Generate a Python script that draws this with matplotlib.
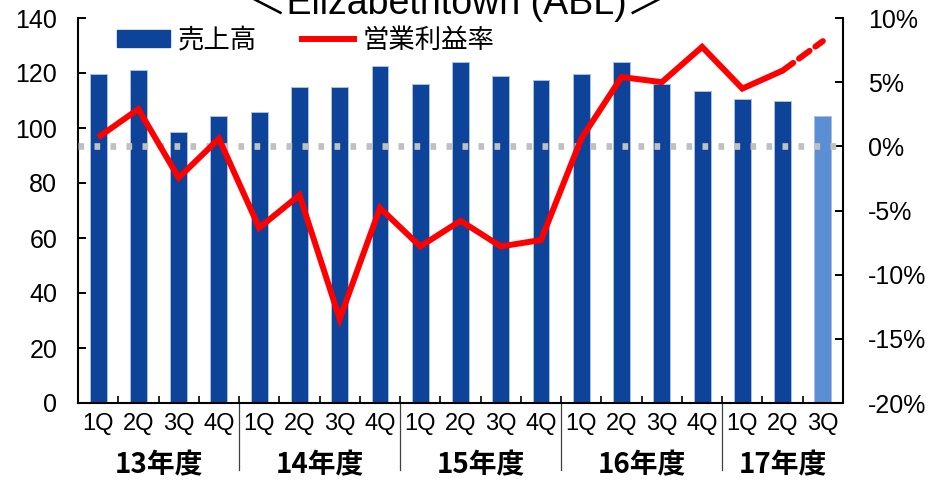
import matplotlib
matplotlib.use('Agg')
import matplotlib.pyplot as plt
from matplotlib import font_manager
from matplotlib.transforms import blended_transform_factory
from matplotlib.lines import Line2D
from matplotlib.patches import Patch
import numpy as np

# ---- data ----
quarters = ['1Q', '2Q', '3Q', '4Q'] * 4 + ['1Q', '2Q', '3Q']
years = ['13年度', '14年度', '15年度', '16年度', '17年度']
year_sizes = [4, 4, 4, 4, 3]
sales = [119.5, 121, 98.5, 104.5, 106, 115, 115, 122.7, 116, 124,
         118.8, 117.3, 119.5, 124, 116, 113.6, 110.4, 110, 104.4]
margin = [0.7, 2.9, -2.45, 0.6, -6.35, -3.8, -13.45, -4.8, -7.8, -5.8,
          -7.8, -7.3, 0.6, 5.4, 5.0, 7.75, 4.5, 5.9, 8.2]
n_actual = 18  # last value is a forecast
title = '＜Elizabethtown (ABL)＞'
legend_labels = ['売上高', '営業利益率']

names = {f.name for f in font_manager.fontManager.ttflist}
narrow = 'Liberation Sans Narrow' if 'Liberation Sans Narrow' in names else 'Liberation Sans'

plt.rcParams['font.family'] = ['Liberation Sans', 'Noto Sans CJK JP', 'DejaVu Sans']

W, H = 931, 482
fig = plt.figure(figsize=(W / 100, H / 100), dpi=100)
L, R, T, B = 78, 843, 18, 403
ax = fig.add_axes([L / W, 1 - B / H, (R - L) / W, (B - T) / H])

x = np.arange(len(sales))
dark = '#0D4399'
light = '#5B8FD4'
colors = [dark] * n_actual + [light] * (len(sales) - n_actual)
ax.bar(x, sales, width=0.42, color=colors, edgecolor='#A9BFE6', linewidth=0.7, zorder=2)
ax.set_xlim(-0.5, len(sales) - 0.5)
ax.set_ylim(0, 140)
ax.set_yticks(range(0, 141, 20))
ax.tick_params(axis='y', direction='in', length=6, width=1.4, labelsize=18, pad=15)
ax.set_xticks(x)
ax.set_xticklabels(quarters, fontsize=17, family=[narrow, 'DejaVu Sans'])
ax.tick_params(axis='x', which='major', length=0, pad=7)
ax.set_xticks(np.arange(0.5, len(sales) - 1, 1), minor=True)
ax.tick_params(axis='x', which='minor', direction='in', length=5, width=1.2)
for s in ['top', 'right']:
    ax.spines[s].set_visible(False)
for s in ['left', 'bottom']:
    ax.spines[s].set_linewidth(1.5)

ax2 = ax.twinx()
ax2.set_ylim(-20, 10)
ticks2 = list(range(-20, 11, 5))
ax2.set_yticks(ticks2)
ax2.set_yticklabels([f'{v}%' for v in ticks2])
ax2.tick_params(axis='y', direction='in', length=6, width=1.4, labelsize=18, pad=18)
ax2.spines['top'].set_visible(False)
ax2.spines['left'].set_visible(False)
ax2.spines['bottom'].set_visible(False)
ax2.spines['right'].set_linewidth(1.5)

ax2.axhline(0, color='#C0C0C0', lw=4.8, dashes=(0.85, 1.55), dash_capstyle='butt', zorder=2)
ax2.plot(x[:n_actual], margin[:n_actual], color='#FF0000', lw=4.3,
         solid_joinstyle='miter', solid_capstyle='butt', zorder=3)
ax2.plot(x[n_actual - 1:], margin[n_actual - 1:], color='#FF0000', lw=4.3,
         dashes=(2.2, 1.2), dash_capstyle='round', zorder=3)

# year group labels and separators
tr = blended_transform_factory(ax.transData, ax.transAxes)
start = 0
for yl, n in zip(years, year_sizes):
    center = start + (n - 1) / 2
    ax.text(center, -0.161, yl, transform=tr, ha='center', va='center',
            fontsize=20, fontweight='bold', family=['Noto Sans CJK JP'])
    start += n
    if start < len(sales):
        ax.plot([start - 0.5, start - 0.5], [0, -0.174], transform=tr,
                color='#404040', lw=0.9, clip_on=False)

handles = [Patch(facecolor=dark, edgecolor=dark),
           Line2D([], [], color='#FF0000', lw=4.3)]
fig.legend(handles, legend_labels, loc='center left',
           bbox_to_anchor=(117 / W, 1 - 40 / H), ncol=2, frameon=False,
           prop={'family': ['Noto Sans CJK JP'], 'size': 19},
           handlelength=2.0, handleheight=0.6, handletextpad=0.3,
           columnspacing=1.7, borderpad=0, borderaxespad=0)

fig.text(457 / W, 1 - 14 / H, title, ha='center', va='baseline', fontsize=27,
         family=['Liberation Sans', 'Noto Sans CJK JP'])

fig.savefig('out.png', dpi=100)
